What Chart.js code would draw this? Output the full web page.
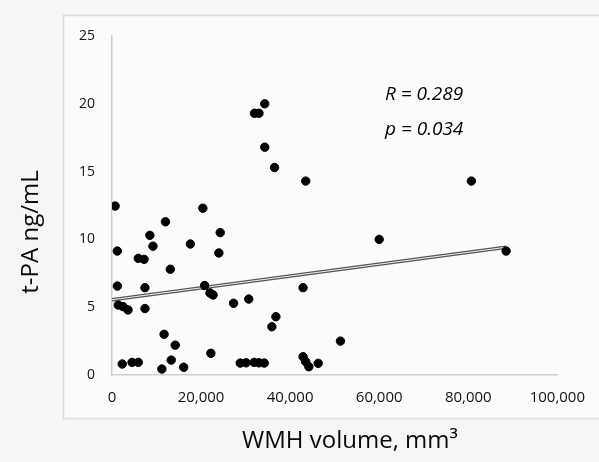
<!DOCTYPE html>
<html>
<head>
<meta charset="utf-8">
<script src="https://cdn.jsdelivr.net/npm/chart.js@4/dist/chart.umd.min.js"></script>
<style>
    html, body { margin: 0; padding: 0; background: #f6f6f6; }
    #wrap { width: 599px; height: 462px; position: relative; }
</style>
</head>
<body>
<div id="wrap"><canvas id="chart" width="599" height="462"></canvas></div>
<script>
// WMH volume (mm3) vs t-PA (ng/mL)
const wmhVolume = [
    700, 1200, 1200, 1400, 2500, 3600, 2300, 4500, 5900, 5900,
    7200, 7400, 7400, 8500, 9200, 11200, 11700, 12000, 13100, 13300,
    14200, 16100, 17600, 20400, 20800, 22200, 22000, 22700, 24000, 24300,
    27300, 28800, 30100, 30700, 31900, 32000, 33000, 33000, 34200, 34300,
    34300, 35900, 36500, 36800, 42900, 42900, 43500, 43500, 44200, 46300,
    51300, 60000, 80700, 88500
];
const tpaLevel = [
    12.46, 9.14, 6.56, 5.16, 5.04, 4.8, 0.81, 0.93, 0.93, 8.6,
    8.53, 6.44, 4.9, 10.3, 9.5, 0.44, 3.0, 11.3, 7.8, 1.1,
    2.2, 0.57, 9.66, 12.3, 6.6, 1.6, 6.05, 5.9, 9.0, 10.5,
    5.29, 0.88, 0.9, 5.6, 0.93, 19.3, 19.3, 0.9, 0.88, 20.0,
    16.8, 3.56, 15.3, 4.3, 6.44, 1.35, 14.3, 0.98, 0.61, 0.86,
    2.5, 10.0, 14.3, 9.14
];

// linear trendline end points
const trendX = [0, 88500];
const trendY = [5.55, 9.42];

const statLines = ['R = 0.289', 'p = 0.034'];

const xTicks = [0, 20000, 40000, 60000, 80000, 100000];
const yTicks = [0, 5, 10, 15, 20, 25];

const FONT = "'Open Sans', 'Noto Sans', sans-serif";

const points = wmhVolume.map((x, i) => ({ x: x, y: tpaLevel[i] }));
const trend = trendX.map((x, i) => ({ x: x, y: trendY[i] }));

// frame, background, titles and stats text
const decorPlugin = {
    id: 'decor',
    beforeDraw(chart) {
        const ctx = chart.ctx;
        ctx.save();
        ctx.fillStyle = '#f6f6f6';
        ctx.fillRect(0, 0, chart.width, chart.height);
        ctx.fillStyle = '#fbfbfb';
        ctx.fillRect(63, 15, 540, 403);
        ctx.strokeStyle = '#dcdcdc';
        ctx.lineWidth = 1.5;
        ctx.strokeRect(63.5, 15.5, 600, 403);
        ctx.restore();
    },
    afterDraw(chart) {
        const ctx = chart.ctx;
        const xs = chart.scales.x;
        const ys = chart.scales.y;
        ctx.save();
        ctx.fillStyle = '#0a0a0a';

        ctx.font = '24px ' + FONT;
        ctx.textAlign = 'center';
        ctx.textBaseline = 'alphabetic';
        ctx.fillText('WMH volume, mm\u00B3', 350, 448);

        ctx.translate(38, 232);
        ctx.rotate(-Math.PI / 2);
        ctx.fillText('t-PA ng/mL', 0, 0);
        ctx.restore();

        ctx.save();
        ctx.fillStyle = '#000';
        ctx.font = 'italic 19px ' + FONT;
        ctx.textAlign = 'left';
        ctx.fillText(statLines[0], xs.getPixelForValue(61300), ys.getPixelForValue(20.3));
        ctx.fillText(statLines[1], xs.getPixelForValue(61300), ys.getPixelForValue(17.7));
        ctx.restore();
    }
};

new Chart(document.getElementById('chart'), {
    type: 'scatter',
    data: {
        datasets: [
            {
                label: 'patients',
                data: points,
                backgroundColor: '#000',
                borderColor: '#000',
                pointRadius: 4.2,
                pointHoverRadius: 4.2
            },
            {
                label: 'trend inner',
                data: trend,
                showLine: true,
                borderColor: '#f2f2f2',
                borderWidth: 1,
                pointRadius: 0
            },
            {
                label: 'trend',
                data: trend,
                showLine: true,
                borderColor: '#555',
                borderWidth: 3.5,
                pointRadius: 0
            }
        ]
    },
    options: {
        responsive: false,
        animation: false,
        layout: { padding: { left: 0, right: 39, top: 36, bottom: 0 } },
        plugins: {
            legend: { display: false },
            tooltip: { enabled: false }
        },
        scales: {
            x: {
                type: 'linear',
                min: 0,
                max: 100000,
                afterBuildTicks: axis => { axis.ticks = xTicks.map(v => ({ value: v })); },
                afterFit: axis => { axis.height = 87; },
                grid: { display: false, drawTicks: false },
                border: { color: '#cfcfcf', width: 1.5 },
                ticks: {
                    color: '#111',
                    padding: 14,
                    autoSkip: false,
                    maxRotation: 0,
                    font: { family: FONT, size: 15 },
                    callback: v => v.toLocaleString('en-US')
                }
            },
            y: {
                type: 'linear',
                min: 0,
                max: 25,
                afterBuildTicks: axis => { axis.ticks = yTicks.map(v => ({ value: v })); },
                afterFit: axis => { axis.width = 112; },
                grid: { display: false, drawTicks: false },
                border: { color: '#cfcfcf', width: 1.5 },
                ticks: {
                    color: '#111',
                    padding: 17,
                    font: { family: FONT, size: 14 }
                }
            }
        }
    },
    plugins: [decorPlugin]
});
</script>
</body>
</html>
